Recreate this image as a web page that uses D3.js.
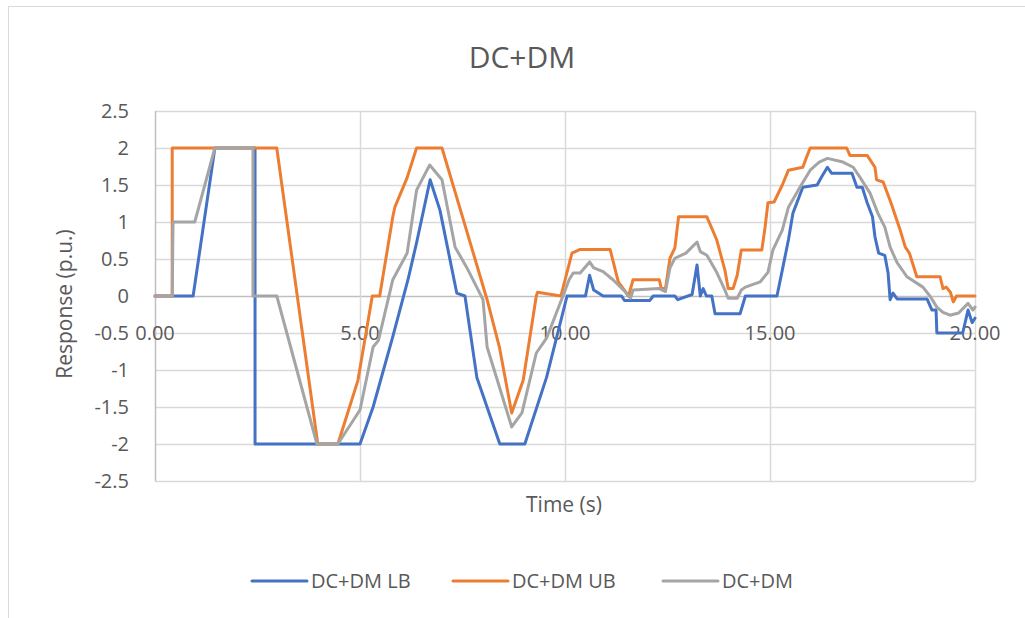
<!DOCTYPE html>
<html>
<head>
<meta charset="utf-8">
<script src="https://cdn.jsdelivr.net/npm/d3@7"></script>
<style>
  body { margin: 0; background: #fff; }
  text { font-family: "Open Sans", "Noto Sans", sans-serif; fill: #595959; }
</style>
</head>
<body>
<svg id="paper"></svg>
<script>
// series: [time (s), response (p.u.)]
let lbData = [[0,0],[0.93,0],[1.46,2],[2.44,2],[2.44,-2],[5.0,-2],[5.32,-1.5],[5.8,-0.55],[6.17,0.22],
  [6.38,0.72],[6.71,1.57],[6.95,1.16],[7.36,0.04],[7.56,0],[7.85,-1.1],[8.41,-2],[9.02,-2],[9.55,-1.1],
  [10.05,0],[10.5,0],[10.6,0.28],[10.7,0.08],[10.93,0],[11.38,0],[11.45,-0.06],[12.07,-0.06],[12.15,0],
  [12.68,0],[12.75,-0.05],[13.1,0.02],[13.22,0.42],[13.3,0],[13.37,0.1],[13.45,0],[13.58,0],[13.66,-0.24],
  [14.27,-0.24],[14.4,0],[15.17,0],[15.3,0.35],[15.45,0.76],[15.56,1.12],[15.8,1.47],[16.15,1.5],
  [16.25,1.6],[16.4,1.74],[16.5,1.66],[17.0,1.66],[17.12,1.47],[17.25,1.47],[17.37,1.26],[17.5,1.07],
  [17.56,0.8],[17.65,0.58],[17.8,0.55],[17.88,0.31],[17.93,-0.05],[18.0,0.04],[18.1,-0.04],[18.83,-0.04],
  [18.95,-0.19],[19.05,-0.19],[19.07,-0.5],[19.7,-0.5],[19.83,-0.19],[19.93,-0.36],[20,-0.3]];

let ubData = [[0,0],[0.42,0],[0.42,2],[2.97,2],[3.97,-2],[4.46,-2],[4.95,-1.14],[5.3,0],[5.48,0],
  [5.8,1.07],[5.85,1.2],[6.15,1.6],[6.38,2],[7.0,2],[7.5,1.07],[8.1,-0.05],[8.4,-0.69],[8.7,-1.58],
  [8.98,-1.14],[9.3,0],[9.33,0.05],[9.9,0],[10.17,0.58],[10.37,0.63],[11.1,0.63],[11.3,0.19],[11.55,0],
  [11.66,0.22],[12.3,0.22],[12.35,0.1],[12.45,0.1],[12.56,0.51],[12.68,0.65],[12.77,1.07],[13.46,1.07],
  [13.7,0.76],[13.9,0.35],[13.98,0.1],[14.1,0.1],[14.2,0.28],[14.3,0.62],[14.8,0.62],[14.88,0.93],
  [14.95,1.26],[15.1,1.27],[15.3,1.5],[15.45,1.7],[15.8,1.74],[15.88,1.86],[15.98,2],[16.87,2],
  [16.95,1.9],[17.37,1.9],[17.56,1.74],[17.6,1.57],[17.76,1.54],[17.95,1.26],[18.17,0.9],[18.3,0.66],
  [18.4,0.58],[18.58,0.26],[19.15,0.26],[19.22,0.1],[19.3,0.12],[19.4,0.05],[19.47,-0.08],[19.55,0],[20,0]];

let dcdmData = [[0,0],[0.42,0],[0.44,1],[0.97,1],[1.46,2],[2.39,2],[2.39,0],[2.97,0],[3.95,-2],[4.46,-2],
  [5.0,-1.54],[5.32,-0.69],[5.45,-0.6],[5.8,0.22],[6.15,0.58],[6.38,1.43],[6.7,1.77],[7.0,1.57],[7.32,0.66],
  [7.6,0.39],[8.0,-0.05],[8.1,-0.69],[8.7,-1.77],[8.95,-1.58],[9.3,-0.77],[9.55,-0.57],[9.95,0],[10.1,0.22],
  [10.2,0.31],[10.37,0.31],[10.6,0.46],[10.7,0.38],[10.93,0.33],[11.17,0.22],[11.46,0.06],[11.6,-0.03],
  [11.66,0.08],[12.3,0.1],[12.45,0.06],[12.56,0.38],[12.68,0.51],[12.95,0.58],[13.22,0.73],[13.3,0.6],
  [13.46,0.55],[13.7,0.32],[13.9,0.08],[13.98,-0.03],[14.2,-0.03],[14.3,0.08],[14.4,0.12],[14.76,0.19],
  [14.95,0.32],[15.07,0.62],[15.3,0.89],[15.45,1.2],[15.73,1.47],[15.98,1.7],[16.2,1.81],[16.4,1.86],
  [16.78,1.81],[17.03,1.74],[17.2,1.6],[17.44,1.39],[17.63,1.12],[17.8,0.93],[17.93,0.66],[18.1,0.45],
  [18.34,0.26],[18.73,0.12],[18.9,0],[19.07,-0.15],[19.22,-0.22],[19.39,-0.26],[19.6,-0.23],[19.83,-0.1],
  [19.95,-0.19],[20,-0.15]];

let seriesNames = ["DC+DM LB", "DC+DM UB", "DC+DM"];
let seriesColors = ["#4472C4", "#ED7D31", "#A5A5A5"];
let xTicks = [0, 5, 10, 15, 20];
let yTicks = [-2.5, -2, -1.5, -1, -0.5, 0, 0.5, 1, 1.5, 2, 2.5];

let W = 1025, H = 618;
let svg = d3.select("#paper").attr("width", W).attr("height", H);

// chart area border
svg.append("rect")
    .attr("x", 8.5).attr("y", 6.5)
    .attr("width", 1030).attr("height", 630)
    .style("fill", "#fff").style("stroke", "#d9d9d9");

let x = d3.scaleLinear().domain([0, 20]).range([155, 975]);
let y = d3.scaleLinear().domain([-2.5, 2.5]).range([481, 111]);

// grid
svg.selectAll("line.hgrid")
    .data(yTicks)
    .enter()
    .append("line")
    .attr("class", "hgrid")
    .attr("x1", x(0)).attr("x2", x(20))
    .attr("y1", d => Math.round(y(d)) + 0.5)
    .attr("y2", d => Math.round(y(d)) + 0.5)
    .style("stroke", d => d === 0 ? "#bfbfbf" : "#d9d9d9")
    .style("stroke-width", 1.5);

svg.selectAll("line.vgrid")
    .data(xTicks)
    .enter()
    .append("line")
    .attr("class", "vgrid")
    .attr("y1", y(2.5)).attr("y2", y(-2.5))
    .attr("x1", d => Math.round(x(d)) + 0.5)
    .attr("x2", d => Math.round(x(d)) + 0.5)
    .style("stroke", d => d === 0 ? "#bfbfbf" : "#d9d9d9")
    .style("stroke-width", 1.5);

// y tick labels (plain hyphen for negatives, like the original)
svg.selectAll("text.ytick")
    .data(yTicks)
    .enter()
    .append("text")
    .attr("class", "ytick")
    .attr("x", 129)
    .attr("y", d => y(d))
    .attr("dy", "0.35em")
    .attr("text-anchor", "end")
    .style("font-size", "20px")
    .text(d => String(d));

// x tick labels sit under the zero line
svg.selectAll("text.xtick")
    .data(xTicks)
    .enter()
    .append("text")
    .attr("class", "xtick")
    .attr("x", d => x(d))
    .attr("y", y(0) + 44)
    .attr("text-anchor", "middle")
    .style("font-size", "20px")
    .text(d => d3.format(".2f")(d));

// lines
let line = d3.line().x(d => x(d[0])).y(d => y(d[1]));
let allSeries = [lbData, ubData, dcdmData];
svg.selectAll("path.series")
    .data(allSeries)
    .enter()
    .append("path")
    .attr("class", "series")
    .attr("d", line)
    .style("fill", "none")
    .style("stroke", (d, i) => seriesColors[i])
    .style("stroke-width", 3)
    .style("stroke-linejoin", "round")
    .style("stroke-linecap", "round");

// titles
svg.append("text")
    .attr("x", 522).attr("y", 68)
    .attr("text-anchor", "middle")
    .style("font-size", "30px")
    .text("DC+DM");

svg.append("text")
    .attr("x", 564).attr("y", 512)
    .attr("text-anchor", "middle")
    .style("font-size", "21px")
    .text("Time (s)");

svg.append("text")
    .attr("transform", "translate(72," + 304 + ") rotate(-90)")
    .attr("text-anchor", "middle")
    .style("font-size", "21px")
    .text("Response (p.u.)");

// legend
let legendX = [252, 453, 663];
let legend = svg.selectAll("g.legend")
    .data(seriesNames)
    .enter()
    .append("g")
    .attr("class", "legend")
    .attr("transform", (d, i) => "translate(" + legendX[i] + ",581)");

legend.append("line")
    .attr("x1", 0).attr("x2", 55)
    .attr("y1", 0).attr("y2", 0)
    .style("stroke", (d, i) => seriesColors[i])
    .style("stroke-width", 3)
    .style("stroke-linecap", "round");

legend.append("text")
    .attr("x", 59).attr("y", 0)
    .attr("dy", "0.35em")
    .style("font-size", "20px")
    .text(d => d);
</script>
</body>
</html>
